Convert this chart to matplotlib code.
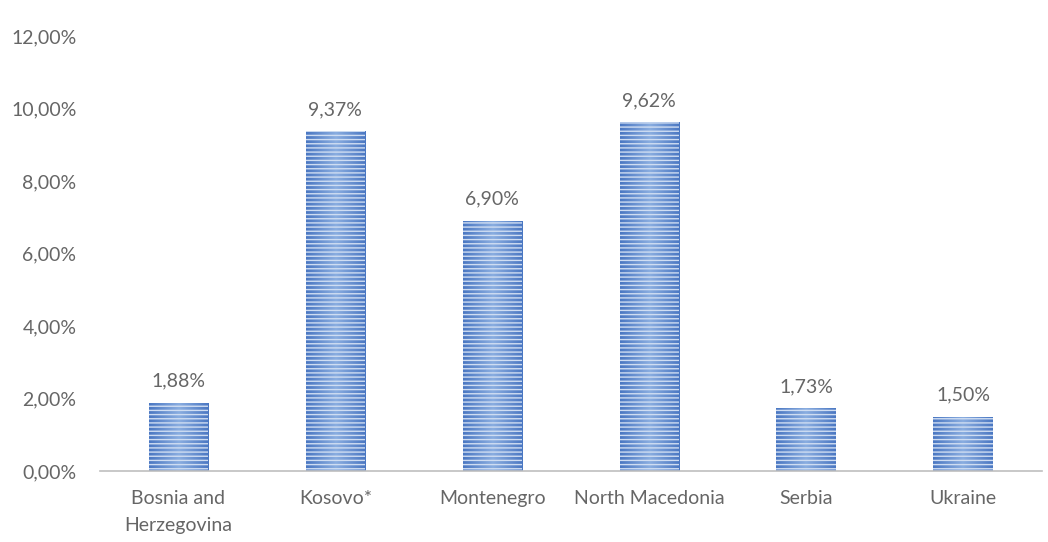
import numpy as np
import matplotlib.pyplot as plt
from matplotlib.colors import LinearSegmentedColormap

countries = ["Bosnia and\nHerzegovina", "Kosovo*", "Montenegro",
             "North Macedonia", "Serbia", "Ukraine"]
shares = [1.88, 9.37, 6.90, 9.62, 1.73, 1.50]
value_labels = ["1,88%", "9,37%", "6,90%", "9,62%", "1,73%", "1,50%"]
y_ticks = [0, 2, 4, 6, 8, 10, 12]
y_tick_labels = ["0,00%", "2,00%", "4,00%", "6,00%", "8,00%", "10,00%", "12,00%"]

TEXT = "#666666"
FS = 14
plt.rcParams["font.family"] = ["Lato", "DejaVu Sans"]
plt.rcParams["hatch.linewidth"] = 1.0

fig = plt.figure(figsize=(10.48, 5.42), dpi=100)
ax = fig.add_axes([0.0954, 0.131, 0.8986, 0.8026])

x = np.arange(len(countries))
width = 0.38

# side-to-side shading inside each bar
shade = LinearSegmentedColormap.from_list(
    "shade", ["#4a77c2", "#8aade0", "#4a77c2"])
grad = np.linspace(0, 1, 256).reshape(1, -1)

bars = ax.bar(x, shares, width, color="#5f8bcc", linewidth=0, zorder=2)
for b in bars:
    x0, y0 = b.get_x(), b.get_y()
    img = ax.imshow(grad, cmap=shade, aspect="auto", zorder=2,
                    extent=[x0, x0 + b.get_width(), y0, y0 + b.get_height()])
    img.set_clip_path(b)

# thin light stripes across the bars
ax.bar(x, shares, width, facecolor="none", edgecolor="#cfddf2",
       linewidth=0, hatch="----", zorder=3)

for xi, v, lab in zip(x, shares, value_labels):
    ax.text(xi, v + 0.36, lab, ha="center", va="bottom", fontsize=FS, color=TEXT)

ax.set_xlim(-0.5, len(countries) - 0.5)
ax.set_ylim(0, 12)
ax.set_xticks(x)
ax.set_xticklabels(countries, fontsize=FS, color=TEXT, linespacing=1.65)
ax.set_yticks(y_ticks)
ax.set_yticklabels(y_tick_labels, fontsize=FS, color=TEXT)
ax.tick_params(axis="x", length=0, pad=14)
ax.tick_params(axis="y", length=0, pad=17)

for side in ["top", "right", "left"]:
    ax.spines[side].set_visible(False)
ax.spines["bottom"].set_color("#bfbfbf")
ax.spines["bottom"].set_linewidth(1.2)

fig.savefig("out.png", dpi=100)
